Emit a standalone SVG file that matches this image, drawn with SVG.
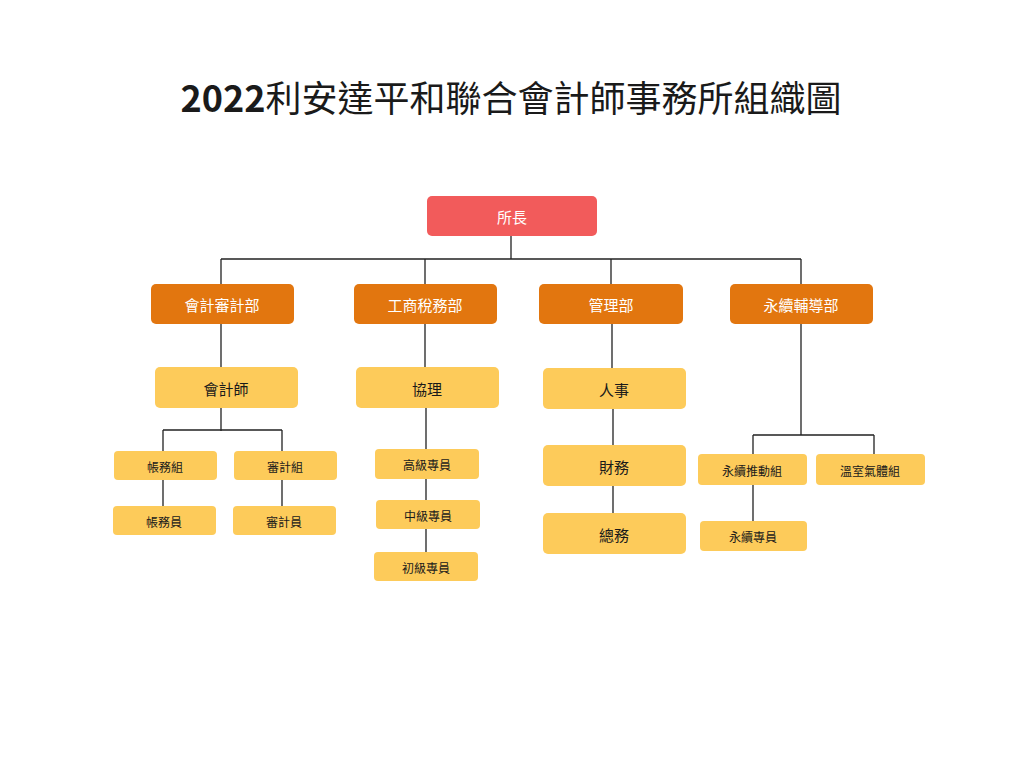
<svg xmlns="http://www.w3.org/2000/svg" width="1024" height="768" viewBox="0 0 1024 768">
<style>
text{font-family:"Noto Sans CJK TC","Noto Sans",sans-serif;text-anchor:middle;dominant-baseline:central;fill:#1a1a1a}
.r{fill:#F25B5B}.o{fill:#E2760F}.y{fill:#FDCB5A}
.w{fill:#fff;font-size:15px}.l{font-size:15px}.m{font-size:15px}.s{font-size:12px}
.c{stroke:#222;stroke-width:1.3;fill:none}
</style>
<rect width="1024" height="768" fill="#fff"/>
<text x="511" y="96" style="font-size:36px"><tspan font-weight="bold">2022</tspan>利安達平和聯合會計師事務所組織圖</text>
<g id="connectors" class="c">
<path d="M511 236V259M221 259H801M221 259V284M425 259V284M611 259V284M801 259V284"/>
<path d="M221 324V367M425 324V367M612 324V368M801 324V435"/>
<path d="M221 408V431M163 430H282M163 430V451M282 430V451M163 480V506M282 480V506"/>
<path d="M426 408V449M426 479V500M426 529V552"/>
<path d="M613 409V445M613 486V513"/>
<path d="M753 435H874M753 435V454M874 435V454M753 485V521"/>
</g>
<g id="n0"><rect class="r" x="427" y="196" width="170" height="40" rx="5"/><text class="w" x="512" y="216">所長</text></g>
<g id="n1"><rect class="o" x="151" y="284" width="143" height="40" rx="5"/><text class="w" x="222" y="304">會計審計部</text></g>
<g id="n2"><rect class="o" x="354" y="284" width="143" height="40" rx="5"/><text class="w" x="425" y="304">工商稅務部</text></g>
<g id="n3"><rect class="o" x="539" y="284" width="144" height="40" rx="5"/><text class="w" x="611" y="304">管理部</text></g>
<g id="n4"><rect class="o" x="730" y="284" width="143" height="40" rx="5"/><text class="w" x="801" y="304">永續輔導部</text></g>
<g id="n5"><rect class="y" x="155" y="367" width="143" height="41" rx="5"/><text class="m" x="226" y="388">會計師</text></g>
<g id="n6"><rect class="y" x="356" y="367" width="143" height="41" rx="5"/><text class="m" x="427" y="388">協理</text></g>
<g id="n7"><rect class="y" x="543" y="368" width="143" height="41" rx="5"/><text class="m" x="614" y="389">人事</text></g>
<g id="n8"><rect class="y" x="543" y="445" width="143" height="41" rx="5"/><text class="m" x="614" y="466">財務</text></g>
<g id="n9"><rect class="y" x="543" y="513" width="143" height="41" rx="5"/><text class="m" x="614" y="534">總務</text></g>
<g id="n10"><rect class="y" x="114" y="451" width="103" height="29" rx="4"/><text class="s" x="165" y="466">帳務組</text></g>
<g id="n11"><rect class="y" x="234" y="451" width="103" height="29" rx="4"/><text class="s" x="285" y="466">審計組</text></g>
<g id="n12"><rect class="y" x="113" y="506" width="103" height="29" rx="4"/><text class="s" x="164" y="521">帳務員</text></g>
<g id="n13"><rect class="y" x="233" y="506" width="103" height="29" rx="4"/><text class="s" x="284" y="521">審計員</text></g>
<g id="n14"><rect class="y" x="375" y="449" width="104" height="30" rx="4"/><text class="s" x="427" y="464">高級專員</text></g>
<g id="n15"><rect class="y" x="376" y="500" width="104" height="29" rx="4"/><text class="s" x="428" y="515">中級專員</text></g>
<g id="n16"><rect class="y" x="374" y="552" width="104" height="29" rx="4"/><text class="s" x="426" y="567">初級專員</text></g>
<g id="n17"><rect class="y" x="698" y="454" width="109" height="31" rx="4"/><text class="s" x="752" y="470">永續推動組</text></g>
<g id="n18"><rect class="y" x="816" y="454" width="109" height="31" rx="4"/><text class="s" x="870" y="470">溫室氣體組</text></g>
<g id="n19"><rect class="y" x="700" y="521" width="107" height="30" rx="4"/><text class="s" x="753" y="536">永續專員</text></g>
</svg>
